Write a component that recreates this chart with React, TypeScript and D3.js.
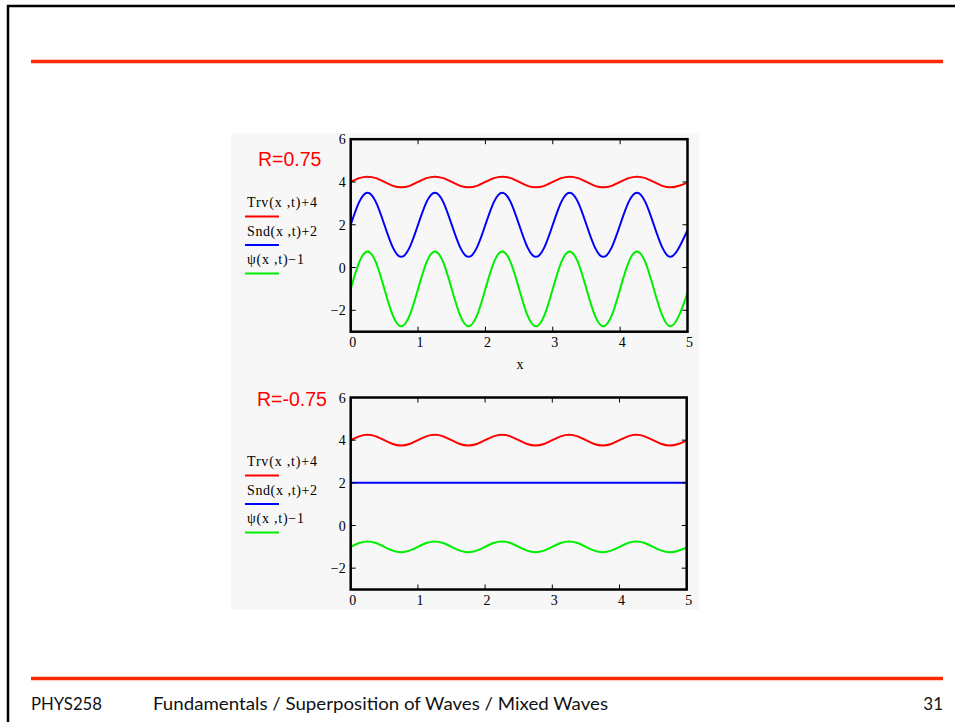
import React from "react";
import * as d3 from "d3";

// sample positions along x (step 0.125)
const xs: number[] = [
  0, 0.125, 0.25, 0.375, 0.5, 0.625, 0.75, 0.875,
  1, 1.125, 1.25, 1.375, 1.5, 1.625, 1.75, 1.875,
  2, 2.125, 2.25, 2.375, 2.5, 2.625, 2.75, 2.875,
  3, 3.125, 3.25, 3.375, 3.5, 3.625, 3.75, 3.875,
  4, 4.125, 4.25, 4.375, 4.5, 4.625, 4.75, 4.875, 5,
];

// R = 0.75
const trvTop: number[] = [
  4.0, 4.18, 4.25, 4.18, 4.0, 3.82, 3.75, 3.82,
  4.0, 4.18, 4.25, 4.18, 4.0, 3.82, 3.75, 3.82,
  4.0, 4.18, 4.25, 4.18, 4.0, 3.82, 3.75, 3.82,
  4.0, 4.18, 4.25, 4.18, 4.0, 3.82, 3.75, 3.82,
  4.0, 4.18, 4.25, 4.18, 4.0, 3.82, 3.75, 3.82, 3.97,
];
const sndTop: number[] = [
  2.0, 3.06, 3.5, 3.06, 2.0, 0.94, 0.5, 0.94,
  2.0, 3.06, 3.5, 3.06, 2.0, 0.94, 0.5, 0.94,
  2.0, 3.06, 3.5, 3.06, 2.0, 0.94, 0.5, 0.94,
  2.0, 3.06, 3.5, 3.06, 2.0, 0.94, 0.5, 0.94,
  2.0, 3.06, 3.5, 3.06, 2.0, 0.94, 0.5, 0.94, 1.75,
];
const psiTop: number[] = [
  -1.0, 0.24, 0.75, 0.24, -1.0, -2.24, -2.75, -2.24,
  -1.0, 0.24, 0.75, 0.24, -1.0, -2.24, -2.75, -2.24,
  -1.0, 0.24, 0.75, 0.24, -1.0, -2.24, -2.75, -2.24,
  -1.0, 0.24, 0.75, 0.24, -1.0, -2.24, -2.75, -2.24,
  -1.0, 0.24, 0.75, 0.24, -1.0, -2.24, -2.75, -2.24, -1.2,
];

// R = -0.75
const trvBot: number[] = [
  4.0, 4.18, 4.25, 4.18, 4.0, 3.82, 3.75, 3.82,
  4.0, 4.18, 4.25, 4.18, 4.0, 3.82, 3.75, 3.82,
  4.0, 4.18, 4.25, 4.18, 4.0, 3.82, 3.75, 3.82,
  4.0, 4.18, 4.25, 4.18, 4.0, 3.82, 3.75, 3.82,
  4.0, 4.18, 4.25, 4.18, 4.0, 3.82, 3.75, 3.82, 3.98,
];
const sndBot: number[] = [
  2, 2, 2, 2, 2, 2, 2, 2, 2, 2, 2, 2, 2, 2, 2, 2, 2, 2, 2, 2,
  2, 2, 2, 2, 2, 2, 2, 2, 2, 2, 2, 2, 2, 2, 2, 2, 2, 2, 2, 2, 2,
];
const psiBot: number[] = [
  -1.0, -0.82, -0.75, -0.82, -1.0, -1.18, -1.25, -1.18,
  -1.0, -0.82, -0.75, -0.82, -1.0, -1.18, -1.25, -1.18,
  -1.0, -0.82, -0.75, -0.82, -1.0, -1.18, -1.25, -1.18,
  -1.0, -0.82, -0.75, -0.82, -1.0, -1.18, -1.25, -1.18,
  -1.0, -0.82, -0.75, -0.82, -1.0, -1.18, -1.25, -1.18, -1.04,
];

const xTicks: number[] = [0, 1, 2, 3, 4, 5];
const yTicks: number[] = [-2, 0, 2, 4, 6];
const legendLabels: string[] = ["Trv(x ,t)+4", "Snd(x ,t)+2", "ψ(x ,t)−1"];
const legendWidths: number[] = [70, 70, 57];
const seriesColors: string[] = ["#ff0000", "#0000ff", "#00ee00"];
const rLabels: string[] = ["R=0.75", "R=-0.75"];
const footerLeft = "PHYS258";
const footerMid = "Fundamentals / Superposition of Waves / Mixed Waves";
const footerPage = "31";

const SERIF = "'Liberation Serif', 'DejaVu Serif', serif";
const SANS = "'Liberation Sans', Arial, sans-serif";
const FOOT = "Lato, 'Open Sans', sans-serif";

type PlotProps = {
  top: number;
  bottom: number;
  left: number;
  right: number;
  series: number[][];
  showXLabel: boolean;
};

function Plot({ top, bottom, left, right, series, showXLabel }: PlotProps) {
  const x = d3.scaleLinear().domain([0, 5]).range([left, right]);
  const y = d3.scaleLinear().domain([-3, 6]).range([bottom, top]);
  const line = d3
    .line<number>()
    .x((_, i) => x(xs[i]))
    .y((d) => y(d))
    .curve(d3.curveNatural);
  const tl = 5;
  return (
    <g>
      <defs>
        <clipPath id={`clip${Math.round(top)}`}>
          <rect x={left} y={top} width={right - left} height={bottom - top} />
        </clipPath>
      </defs>
      <g clipPath={`url(#clip${Math.round(top)})`}>
        {series.map((s, i) => (
          <path key={i} d={line(s) || ""} fill="none" stroke={seriesColors[i]} strokeWidth={2} />
        ))}
      </g>
      {xTicks.slice(1, -1).map((t) => (
        <g key={`xt${t}`} stroke="#000" strokeWidth={1}>
          <line x1={x(t)} x2={x(t)} y1={bottom} y2={bottom - tl} />
          <line x1={x(t)} x2={x(t)} y1={top} y2={top + tl} />
        </g>
      ))}
      {yTicks.slice(0, -1).map((t) => (
        <g key={`yt${t}`} stroke="#000" strokeWidth={1}>
          <line x1={left} x2={left + tl} y1={y(t)} y2={y(t)} />
          <line x1={right} x2={right - tl} y1={y(t)} y2={y(t)} />
        </g>
      ))}
      <rect x={left} y={top} width={right - left} height={bottom - top} fill="none" stroke="#000" strokeWidth={2.5} />
      {xTicks.map((t) => (
        <text key={`xl${t}`} x={x(t) + 2} y={bottom + 15} fontFamily={SERIF} fontSize={14} textAnchor="middle" fill="#000">
          {t}
        </text>
      ))}
      {yTicks.map((t) => (
        <text key={`yl${t}`} x={left - 5} y={y(t) + 5} fontFamily={SERIF} fontSize={14} textAnchor="end" fill="#000">
          {t < 0 ? `−${-t}` : t}
        </text>
      ))}
      {showXLabel && (
        <text x={(left + right) / 2 + 1} y={bottom + 37} fontFamily={SERIF} fontSize={14} textAnchor="middle">
          x
        </text>
      )}
    </g>
  );
}

function Legend({ rLabel, rx, ry, firstY }: { rLabel: string; rx: number; ry: number; firstY: number }) {
  return (
    <g>
      <text x={rx} y={ry} fontFamily={SANS} fontSize={19.5} fill="#ff0000">
        {rLabel}
      </text>
      {legendLabels.map((lab, i) => (
        <g key={lab}>
          <text
            x={247}
            y={firstY + i * 28.5}
            fontFamily={SERIF}
            fontSize={14}
            fill="#000"
            textLength={legendWidths[i]}
            lengthAdjust="spacing"
          >
            {lab}
          </text>
          <line x1={245} x2={279} y1={firstY + i * 28.5 + 9.5} y2={firstY + i * 28.5 + 9.5} stroke={seriesColors[i]} strokeWidth={2} />
        </g>
      ))}
    </g>
  );
}

export default function App() {
  return (
    <svg width={955} height={722} style={{ position: "absolute", left: 0, top: 0 }}>
      <rect x={0} y={0} width={955} height={722} fill="#fff" />
      <line x1={7} x2={955} y1={6} y2={6} stroke="#000" strokeWidth={2.5} />
      <line x1={8} x2={8} y1={5} y2={722} stroke="#000" strokeWidth={2.5} />
      <line x1={31} x2={943} y1={61.5} y2={61.5} stroke="#ff2a00" strokeWidth={3.5} />
      <line x1={31} x2={943} y1={678.5} y2={678.5} stroke="#ff2a00" strokeWidth={3.5} />
      <rect x={231} y={133} width={468} height={477} fill="#f7f7f7" />
      <Plot top={139.2} bottom={331.7} left={350.7} right={687.5} series={[trvTop, sndTop, psiTop]} showXLabel={true} />
      <Plot top={397.5} bottom={589.5} left={350.7} right={686.7} series={[trvBot, sndBot, psiBot]} showXLabel={false} />
      <Legend rLabel={rLabels[0]} rx={258} ry={166} firstY={207} />
      <Legend rLabel={rLabels[1]} rx={257} ry={406} firstY={466} />
      <text x={31} y={710} fontFamily={FOOT} fontSize={17} fill="#111" textLength={71} lengthAdjust="spacingAndGlyphs">
        {footerLeft}
      </text>
      <text x={153} y={710} fontFamily={FOOT} fontSize={17.5} fill="#111" textLength={455} lengthAdjust="spacingAndGlyphs">
        {footerMid}
      </text>
      <text x={943} y={710} fontFamily={FOOT} fontSize={17} fill="#111" textAnchor="end">
        {footerPage}
      </text>
    </svg>
  );
}
